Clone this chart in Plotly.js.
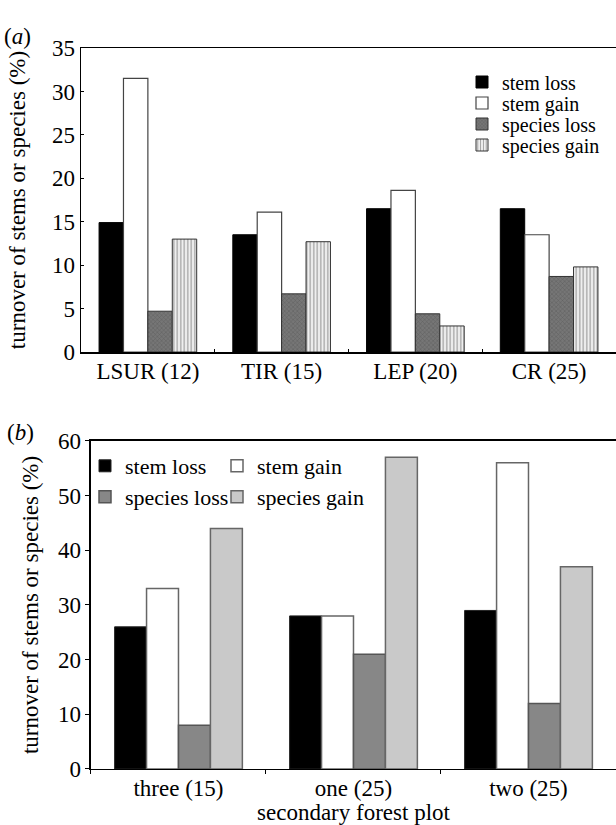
<!DOCTYPE html>
<html>
<head>
<meta charset="utf-8">
<script src="https://cdn.plot.ly/plotly-3.0.1.min.js"></script>
<style>html,body{margin:0;padding:0;background:#fff;}#chart{width:616px;height:825px;}</style>
</head>
<body>
<div id="chart"></div>
<script>
// Panel (a) data
const catsA = ['LSUR (12)', 'TIR (15)', 'LEP (20)', 'CR (25)'];
const stemLossA = [14.9, 13.5, 16.5, 16.5];
const stemGainA = [31.5, 16.1, 18.6, 13.5];
const speciesLossA = [4.7, 6.7, 4.4, 8.7];
const speciesGainA = [13.0, 12.7, 3.0, 9.8];

// Panel (b) data
const catsB = ['three (15)', 'one (25)', 'two (25)'];
const stemLossB = [26, 28, 29];
const stemGainB = [33, 28, 56];
const speciesLossB = [8, 21, 12];
const speciesGainB = [44, 57, 37];

const seriesNames = ['stem loss', 'stem gain', 'species loss', 'species gain'];

const FONT = 'Times New Roman, Liberation Serif, DejaVu Serif, serif';
const FS = 23;

const traces = [
  {type:'bar', name:seriesNames[0], x:catsA, y:stemLossA, xaxis:'x', yaxis:'y', legend:'legend',
   marker:{color:'#000000', line:{color:'#000000', width:1}}},
  {type:'bar', name:seriesNames[1], x:catsA, y:stemGainA, xaxis:'x', yaxis:'y', legend:'legend2',
   marker:{color:'#ffffff', line:{color:'#444444', width:1.2}}},
  {type:'bar', name:seriesNames[2], x:catsA, y:speciesLossA, xaxis:'x', yaxis:'y', legend:'legend3',
   marker:{color:'#6f6f6f', line:{color:'#333333', width:1},
           pattern:{shape:'x', fgcolor:'#5e5e5e', bgcolor:'#767676', size:3, solidity:0.3}}},
  {type:'bar', name:seriesNames[3], x:catsA, y:speciesGainA, xaxis:'x', yaxis:'y', legend:'legend4',
   marker:{color:'#d8d8d8', line:{color:'#333333', width:1},
           pattern:{shape:'|', fgcolor:'#a0a0a0', bgcolor:'#efefef', size:3.5, solidity:0.35}}},

  {type:'bar', name:seriesNames[0], x:catsB, y:stemLossB, xaxis:'x2', yaxis:'y2', legend:'legend5',
   marker:{color:'#000000', line:{color:'#222222', width:1}}},
  {type:'bar', name:seriesNames[1], x:catsB, y:stemGainB, xaxis:'x2', yaxis:'y2', legend:'legend6',
   marker:{color:'#ffffff', line:{color:'#666666', width:1.5}}},
  {type:'bar', name:seriesNames[2], x:catsB, y:speciesLossB, xaxis:'x2', yaxis:'y2', legend:'legend7',
   marker:{color:'#878787', line:{color:'#555555', width:1.5}}},
  {type:'bar', name:seriesNames[3], x:catsB, y:speciesGainB, xaxis:'x2', yaxis:'y2', legend:'legend8',
   marker:{color:'#c9c9c9', line:{color:'#666666', width:1.5}}}
];

const axisCommon = {
  showline:true, linecolor:'#000', linewidth:1.5, showgrid:false, zeroline:false,
  tickcolor:'#000', tickfont:{family:FONT, size:FS, color:'#000'}
};

function legendAt(xPix, yPix, fs) {
  return {x:xPix / 616, y:(825 - yPix) / 825, xanchor:'left', yanchor:'middle', orientation:'v',
          bgcolor:'rgba(0,0,0,0)', borderwidth:0, itemwidth:30,
          font:{family:FONT, size:fs, color:'#000'}};
}

const layout = {
  width:616, height:825,
  margin:{l:0, r:0, t:0, b:0},
  paper_bgcolor:'#fff', plot_bgcolor:'#fff',
  font:{family:FONT, size:FS, color:'#000'},
  barmode:'group', bargap:0.27, bargroupgap:0,
  xaxis:Object.assign({}, axisCommon, {
    domain:[0.1315, 1], anchor:'y', type:'category', range:[-0.5, 3.5],
    mirror:true, ticks:'inside', tickson:'boundaries', ticklen:3, ticklabelstandoff:-2
  }),
  yaxis:Object.assign({}, axisCommon, {
    domain:[0.5733, 0.9418], anchor:'x', range:[0, 35], dtick:5,
    ticks:'inside', ticklen:3,
    title:{text:'turnover of stems or species (%)', font:{family:FONT, size:FS, color:'#000'}, standoff:20}
  }),
  xaxis2:Object.assign({}, axisCommon, {
    domain:[0.1477, 1], anchor:'y2', type:'category', range:[-0.5, 2.5],
    mirror:true, ticks:'outside', tickson:'boundaries', ticklen:4, ticklabelstandoff:-2,
    title:{text:'secondary forest plot', font:{family:FONT, size:FS, color:'#000'}, standoff:0}
  }),
  yaxis2:Object.assign({}, axisCommon, {
    domain:[0.0679, 0.4655], anchor:'x2', range:[0, 60], dtick:10,
    ticks:'outside', ticklen:4,
    title:{text:'turnover of stems or species (%)', font:{family:FONT, size:FS, color:'#000'}, standoff:13}
  }),
  legend:legendAt(462, 82, 20),
  legend2:legendAt(462, 103, 20),
  legend3:legendAt(462, 124, 20),
  legend4:legendAt(462, 145, 20),
  legend5:legendAt(85, 466, 22),
  legend6:legendAt(217, 466, 22),
  legend7:legendAt(85, 497, 22),
  legend8:legendAt(217, 497, 22),
  annotations:[
    {text:'(<i>a</i>)', xref:'paper', yref:'paper', x:0.003, y:(825-37)/825, xanchor:'left', yanchor:'middle',
     showarrow:false, font:{family:FONT, size:FS, color:'#000'}},
    {text:'(<i>b</i>)', xref:'paper', yref:'paper', x:0.008, y:(825-432)/825, xanchor:'left', yanchor:'middle',
     showarrow:false, font:{family:FONT, size:FS, color:'#000'}}
  ],
  showlegend:true
};

Plotly.newPlot('chart', traces, layout, {displayModeBar:false, staticPlot:true});
</script>
</body>
</html>
